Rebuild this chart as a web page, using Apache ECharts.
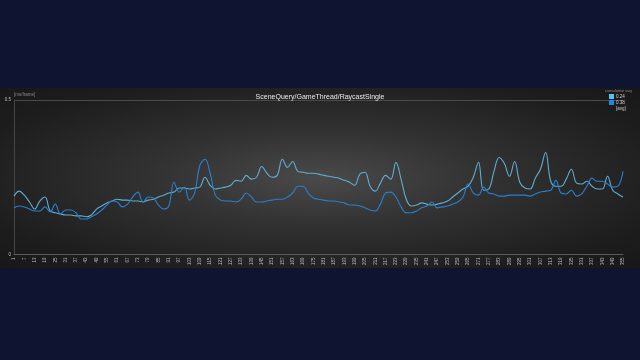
<!DOCTYPE html>
<html>
<head>
<meta charset="utf-8">
<script src="https://cdn.jsdelivr.net/npm/echarts@6/dist/echarts.min.js"></script>
<style>
html,body{margin:0;padding:0;width:640px;height:360px;background:#0f1431;overflow:hidden;}
#box{position:absolute;left:0;top:88px;width:640px;height:180px;
background:radial-gradient(ellipse at 50% 50%, #4a4a4a 0%, #333 35%, #1d1d1d 80%, #181818 100%);}
#chart{width:640px;height:180px;}
</style>
</head>
<body>
<div id="box"><div id="chart"></div></div>
<script>
const chartTitle = 'SceneQuery/GameThread/RaycastSingle';
const unitLabel = '[ms/frame]';
const legendHeading = 'cumulative avg';
const seriesNames = ['0.24', '0.38'];
const avgLabel = '[avg]';
const yTicks = [0, 0.5];

const categories = [];
for (let i = 0; i < 119; i++) categories.push(String(1 + i * 3));

const lightValues = [
0.189,0.205,0.192,0.170,0.147,0.173,0.186,0.141,0.135,0.131,
0.128,0.128,0.125,0.125,0.122,0.128,0.147,0.157,0.167,0.173,
0.179,0.176,0.176,0.173,0.173,0.170,0.176,0.179,0.186,0.192,
0.199,0.202,0.215,0.215,0.212,0.215,0.218,0.250,0.224,0.212,
0.215,0.218,0.224,0.240,0.237,0.256,0.244,0.250,0.285,0.263,
0.250,0.256,0.308,0.282,0.301,0.269,0.266,0.263,0.263,0.260,
0.256,0.253,0.250,0.247,0.240,0.234,0.224,0.260,0.266,0.221,
0.205,0.231,0.256,0.244,0.298,0.244,0.179,0.157,0.160,0.167,
0.163,0.160,0.163,0.167,0.173,0.186,0.199,0.212,0.221,0.250,
0.298,0.208,0.212,0.269,0.314,0.295,0.253,0.301,0.234,0.215,
0.212,0.247,0.276,0.330,0.237,0.221,0.221,0.244,0.276,0.231,
0.228,0.237,0.221,0.212,0.212,0.253,0.208,0.196,0.186];

const darkValues = [
0.151,0.157,0.154,0.147,0.141,0.141,0.154,0.138,0.163,0.131,
0.144,0.144,0.135,0.115,0.115,0.122,0.131,0.144,0.160,0.173,
0.170,0.154,0.163,0.186,0.202,0.170,0.186,0.183,0.160,0.147,
0.157,0.234,0.202,0.218,0.176,0.199,0.288,0.308,0.263,0.192,
0.176,0.173,0.173,0.170,0.179,0.199,0.186,0.170,0.170,0.173,
0.176,0.179,0.179,0.186,0.199,0.221,0.221,0.199,0.183,0.179,
0.176,0.173,0.173,0.170,0.167,0.160,0.160,0.157,0.151,0.144,
0.141,0.163,0.199,0.202,0.186,0.154,0.135,0.135,0.141,0.151,
0.157,0.170,0.151,0.154,0.157,0.163,0.170,0.186,0.228,0.199,
0.192,0.218,0.199,0.196,0.189,0.189,0.192,0.192,0.192,0.192,
0.189,0.196,0.202,0.205,0.208,0.240,0.199,0.196,0.208,0.189,
0.196,0.221,0.247,0.237,0.237,0.228,0.218,0.221,0.269];

const colors = ['#5eaed0', '#2a7fcf'];

const chart = echarts.init(document.getElementById('chart'), null, {renderer:'canvas'});
chart.setOption({
  backgroundColor: 'transparent',
  animation: false,
  title: {
    text: chartTitle, left: 'center', top: 1,
    textStyle: {color:'#e8e8e8', fontSize: 7, fontWeight: 'normal', fontFamily: 'Liberation Sans'}
  },
  legend: {
    orient: 'vertical', left: 609, top: 6, itemWidth: 5, itemHeight: 5, itemGap: 1,
    icon: 'rect', padding: 0,
    data: seriesNames,
    textStyle: {color:'#cfcfcf', fontSize: 4.5, lineHeight: 5, fontFamily: 'Liberation Sans', padding:[0,0,0,-3]}
  },
  graphic: [
    {type:'text', left: 14, top: 4, style:{text: unitLabel, fill:'#8a8a8a', font:'4.5px Liberation Sans'}},
    {type:'text', left: 605, top: 1, style:{text: legendHeading, fill:'#8a8a8a', font:'4px Liberation Sans'}},
    {type:'text', left: 616, top: 18, style:{text: avgLabel, fill:'#cfcfcf', font:'4.5px Liberation Sans'}}
  ],
  grid: {left: 14, right: 17, top: 12, bottom: 12, containLabel: false},
  xAxis: {
    type: 'category', data: categories, boundaryGap: false,
    axisLine: {lineStyle:{color:'#5a5a5a', width:1}},
    axisTick: {show:false},
    axisLabel: {interval: 1, rotate: 90, fontSize: 4.5, color:'#bdbdbd', margin: 3, fontFamily:'Liberation Sans'},
    splitLine: {show:false}
  },
  yAxis: {
    type: 'value', min: yTicks[0], max: yTicks[1], interval: 0.5,
    axisLine: {show:true, lineStyle:{color:'#444', width:1}},
    axisTick: {show:false},
    axisLabel: {fontSize: 4.5, color:'#bdbdbd', margin: 3, fontFamily:'Liberation Sans'},
    splitLine: {show:true, lineStyle:{color:'#4a4a4a', width:1}}
  },
  series: [
    {name: seriesNames[0], type:'line', data: lightValues, smooth: 0.4, symbol:'none',
     lineStyle:{color: colors[0], width:1.1}, itemStyle:{color:'#4fc3f7'}},
    {name: seriesNames[1], type:'line', data: darkValues, smooth: 0.4, symbol:'none',
     lineStyle:{color: colors[1], width:1.1}, itemStyle:{color:'#1e88e5'}}
  ]
});
</script>
</body>
</html>
